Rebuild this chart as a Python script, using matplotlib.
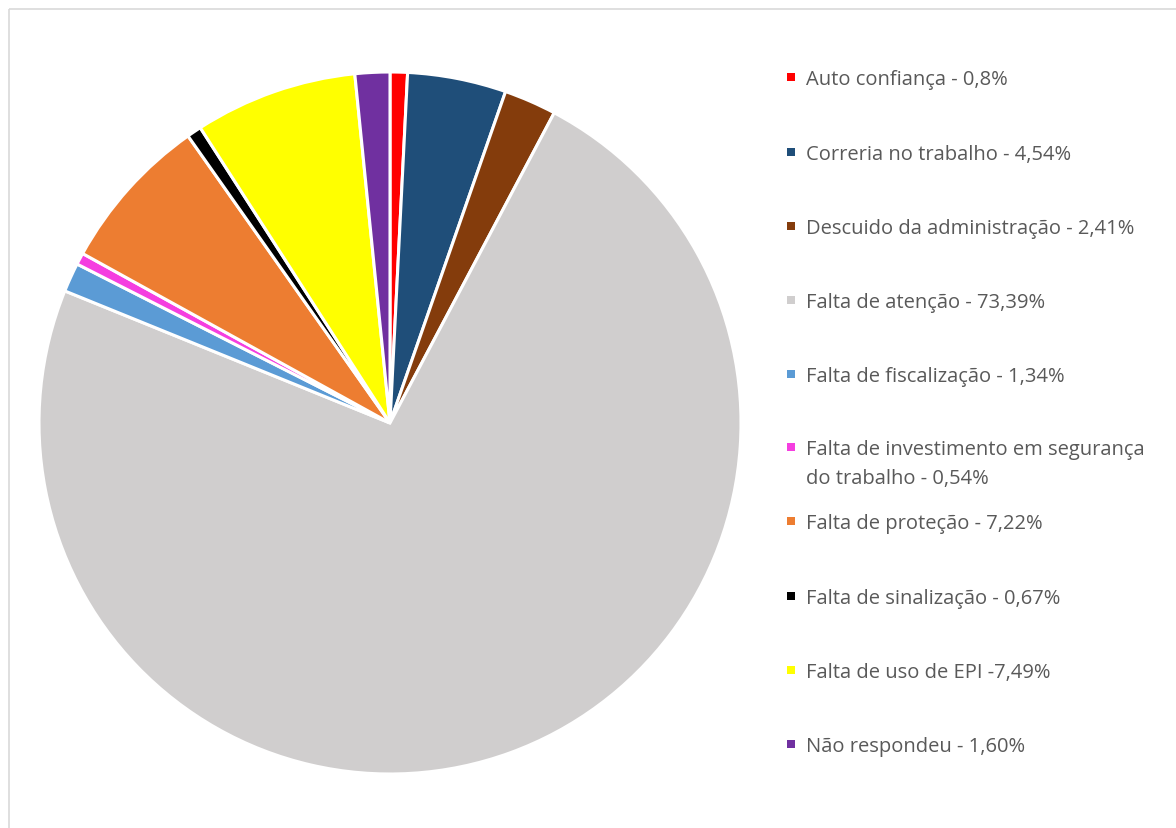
import matplotlib.pyplot as plt
from matplotlib.patches import Rectangle

causes = [
    "Auto confiança - 0,8%",
    "Correria no trabalho - 4,54%",
    "Descuido da administração - 2,41%",
    "Falta de atenção - 73,39%",
    "Falta de fiscalização - 1,34%",
    "Falta de investimento em segurança\ndo trabalho - 0,54%",
    "Falta de proteção - 7,22%",
    "Falta de sinalização - 0,67%",
    "Falta de uso de EPI -7,49%",
    "Não respondeu - 1,60%",
]
shares = [0.8, 4.54, 2.41, 73.39, 1.34, 0.54, 7.22, 0.67, 7.49, 1.60]
colors = ["#FF0000", "#1F4E79", "#843C0C", "#D0CECE", "#5B9BD5",
          "#F53EE0", "#ED7D31", "#000000", "#FFFF00", "#7030A0"]

W, H = 1176, 829
fig = plt.figure(figsize=(W / 100, H / 100), dpi=100)

# light chart-area border
fig.add_artist(Rectangle((9 / W, 1 - 10 / H), 1.2, -1.2, transform=fig.transFigure,
                         fill=False, edgecolor="#D9D9D9", linewidth=1.2))

# pie centred at (390, 424) px with radius ~351 px
cx, cy, r = 390, 424, 351
ax = fig.add_axes([(cx - r) / W, 1 - (cy + r) / H, 2 * r / W, 2 * r / H])
ax.pie(shares, colors=colors, startangle=90, counterclock=False, radius=1,
       wedgeprops=dict(edgecolor="white", linewidth=2.2))
ax.set_xlim(-1, 1)
ax.set_ylim(-1, 1)
ax.set_aspect("equal")
ax.axis("off")

# legend entries on the right (pixel rows, wrapped labels drop 29 px per line)
rows_y = [78, 153, 227, 301, 375, 448, 522, 597, 671, 745]
for label, col, y in zip(causes, colors, rows_y):
    fig.add_artist(Rectangle((787 / W, 1 - (y + 4) / H), 8 / W, 8 / H,
                             transform=fig.transFigure, facecolor=col,
                             edgecolor="none"))
    for i, line in enumerate(label.split("\n")):
        fig.text(806 / W, 1 - (y + 7 + 29 * i) / H, line, ha="left", va="baseline",
                 fontsize=14.5, family=["Open Sans", "DejaVu Sans"],
                 color="#595959")

fig.savefig("out.png", dpi=100)
